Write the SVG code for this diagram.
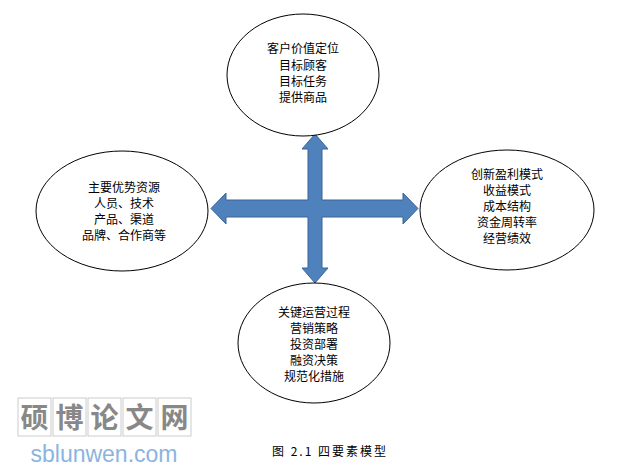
<svg xmlns="http://www.w3.org/2000/svg" width="638" height="470" viewBox="0 0 638 470">
<style>
.e{fill:#fff;stroke:#000;stroke-width:1}
.t{font-family:"Noto Sans CJK SC","Liberation Serif",serif;font-size:12px;text-anchor:middle;fill:#000}
.wm{font-family:"Noto Sans CJK SC",sans-serif;font-size:28px;font-weight:bold;fill:#888;text-anchor:middle}
.box{fill:none;stroke:#ccc;stroke-width:1}
</style>
<rect width="638" height="470" fill="#fff"/>
<g id="connectors">
<path d="M315,134 L328,149 L322,149 L322,200 L403,200 L403,193 L418,208.5 L403,224 L403,217 L322,217 L322,268 L328,268 L315,283 L302,268 L308,268 L308,217 L226,217 L226,224 L211,208.5 L226,193 L226,200 L308,200 L308,149 L302,149 Z" fill="#4f81bd" stroke="#3a6594" stroke-width="1"/>
</g>
<g id="top"><ellipse class="e" cx="303" cy="75" rx="76" ry="61"/>
<text class="t" x="303" y="53">客户价值定位</text><text class="t" x="303" y="70">目标顾客</text><text class="t" x="303" y="86">目标任务</text><text class="t" x="303" y="102">提供商品</text></g>
<g id="left"><ellipse class="e" cx="122" cy="211" rx="86" ry="60"/>
<text class="t" x="124" y="192">主要优势资源</text><text class="t" x="124" y="208">人员、技术</text><text class="t" x="124" y="224">产品、渠道</text><text class="t" x="124" y="240">品牌、合作商等</text></g>
<g id="right"><ellipse class="e" cx="507" cy="210" rx="87" ry="60"/>
<text class="t" x="507" y="179">创新盈利模式</text><text class="t" x="507" y="195">收益模式</text><text class="t" x="507" y="211">成本结构</text><text class="t" x="507" y="227">资金周转率</text><text class="t" x="507" y="243">经营绩效</text></g>
<g id="bottom"><ellipse class="e" cx="314" cy="343" rx="76" ry="60"/>
<text class="t" x="314" y="317">关键运营过程</text><text class="t" x="314" y="333">营销策略</text><text class="t" x="314" y="349">投资部署</text><text class="t" x="314" y="365">融资决策</text><text class="t" x="314" y="381">规范化措施</text></g>
<g id="watermark">
<rect class="box" x="18" y="398" width="33" height="38"/><rect class="box" x="53" y="398" width="33" height="38"/><rect class="box" x="88" y="398" width="33" height="38"/><rect class="box" x="123" y="398" width="33" height="38"/><rect class="box" x="158" y="398" width="33" height="38"/>
<text class="wm" x="34.5" y="428">硕</text><text class="wm" x="69.5" y="428">博</text><text class="wm" x="104.5" y="428">论</text><text class="wm" x="139.5" y="428">文</text><text class="wm" x="174.5" y="428">网</text>
<text x="104" y="462" font-family="Liberation Sans,sans-serif" font-size="23" fill="#8ab4e0" text-anchor="middle">sblunwen.com</text>
</g>
<text x="272" y="456" font-family="Noto Sans CJK SC,Liberation Serif,serif" font-size="12" letter-spacing="2">图 2.1  四要素模型</text>
</svg>
